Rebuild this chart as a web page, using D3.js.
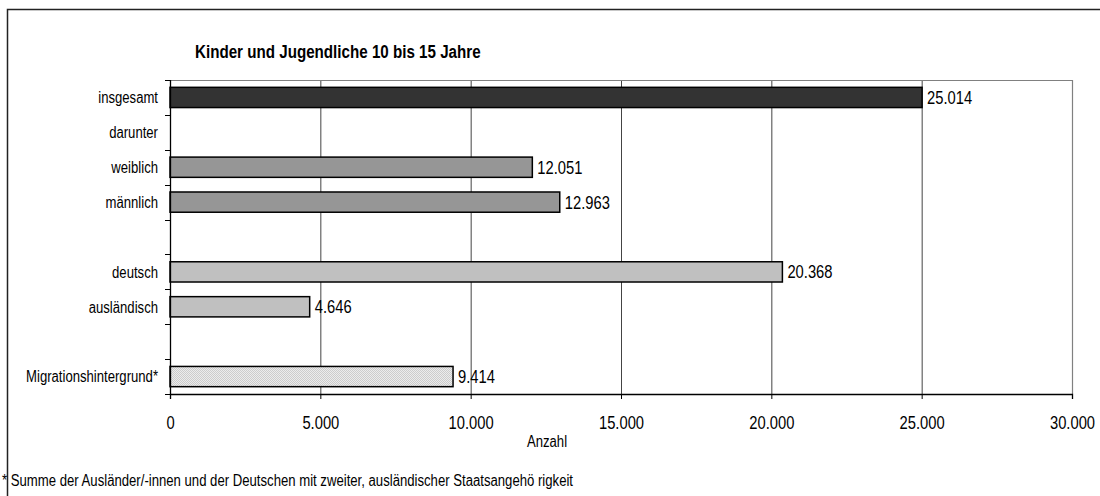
<!DOCTYPE html>
<html>
<head>
<meta charset="utf-8">
<script src="https://cdn.jsdelivr.net/npm/d3@7"></script>
<style>
  html, body { margin: 0; padding: 0; background: #fff; }
  svg text { font-family: "Liberation Sans", Arial, sans-serif; fill: #000; }
</style>
</head>
<body>
<svg id="chart" width="1100" height="496"></svg>
<script>
// Rows of the bar chart (blank rows are spacers between groups)
const categories = ["insgesamt", "darunter", "weiblich", "männlich", "gap1", "deutsch", "ausländisch", "gap2", "Migrationshintergrund*"];
const rowLabels  = ["insgesamt", "darunter", "weiblich", "männlich", "", "deutsch", "ausländisch", "", "Migrationshintergrund*"];
const values     = [25014, null, 12051, 12963, null, 20368, 4646, null, 9414];
const fills      = ["#333333", null, "#969696", "#969696", null, "#c0c0c0", "#c0c0c0", null, "url(#dots)"];
const xTicks     = [0, 5000, 10000, 15000, 20000, 25000, 30000];

const title = "Kinder und Jugendliche 10 bis 15 Jahre";
const axisTitle = "Anzahl";
const footnote = "* Summe der Ausländer/-innen und der Deutschen mit zweiter, ausländischer Staatsangehö rigkeit";

const NARROW = 0.82; // horizontal squeeze to get a narrow face from Liberation Sans

const svg = d3.select("#chart");
const fmt = d3.formatLocale({ decimal: ",", thousands: ".", grouping: [3], currency: ["", "€"] }).format(",d");

// narrow text placed at (x, y)
function narrowText(sel, x, y, size, anchor) {
  return sel.append("text")
    .attr("transform", `translate(${x},${y}) scale(${NARROW},1)`)
    .attr("font-size", size)
    .attr("text-anchor", anchor || "start");
}

// dotted fill for the migration bar
const defs = svg.append("defs");
const pat = defs.append("pattern").attr("id", "dots").attr("patternUnits", "userSpaceOnUse")
  .attr("width", 2).attr("height", 2);
pat.append("rect").attr("width", 2).attr("height", 2).attr("fill", "#ececec");
pat.append("rect").attr("width", 1).attr("height", 1).attr("fill", "#cccccc");
pat.append("rect").attr("x", 1).attr("y", 1).attr("width", 1).attr("height", 1).attr("fill", "#cccccc");

// outer frame (left and top edges)
svg.append("path").attr("d", "M7.5,496 V9.5 H1100").attr("fill", "none").attr("stroke", "#222").attr("stroke-width", 1.5);

const plot = { left: 170, right: 1072, top: 80, bottom: 394 };

const x = d3.scaleLinear().domain([0, 30000]).range([plot.left, plot.right]);
const y = d3.scaleBand().domain(categories).range([plot.top, plot.bottom]).paddingInner(0.42).paddingOuter(0.21);
const yStep = d3.scaleBand().domain(categories).range([plot.top, plot.bottom]);

// title
narrowText(svg, 195, 58, 18.5).attr("font-weight", "bold").text(title);

// gridlines
svg.append("g").selectAll("line").data(xTicks.slice(1, -1)).join("line")
  .attr("x1", d => x(d) + 0.5).attr("x2", d => x(d) + 0.5)
  .attr("y1", plot.top).attr("y2", plot.bottom)
  .attr("stroke", "#444").attr("stroke-width", 1);

// plot-area frame (top and right)
svg.append("path")
  .attr("d", `M${plot.left},${plot.top + 0.5} H${plot.right + 0.5} V${plot.bottom}`)
  .attr("fill", "none").attr("stroke", "#808080").attr("stroke-width", 1.2);

// bars
const rows = categories.map((c, i) => ({ c, v: values[i], fill: fills[i], label: rowLabels[i] }));
const barRows = rows.filter(d => d.v != null);
svg.append("g").selectAll("rect").data(barRows).join("rect")
  .attr("x", x(0)).attr("y", d => y(d.c))
  .attr("width", d => x(d.v) - x(0)).attr("height", y.bandwidth())
  .attr("fill", d => d.fill).attr("stroke", "#000").attr("stroke-width", 1.5);

// value labels
const valG = svg.append("g");
barRows.forEach(d => {
  narrowText(valG, x(d.v) + 5, y(d.c) + y.bandwidth() / 2, 18).attr("dy", "0.36em").text(fmt(d.v));
});

// y axis: line, ticks at band boundaries, row labels
const yAxis = svg.append("g");
yAxis.append("line").attr("x1", plot.left + 0.5).attr("x2", plot.left + 0.5)
  .attr("y1", plot.top).attr("y2", plot.bottom).attr("stroke", "#000").attr("stroke-width", 1.3);
const bounds = categories.map(c => yStep(c)).concat([plot.bottom]);
yAxis.selectAll("line.tk").data(bounds).join("line").attr("class", "tk")
  .attr("x1", plot.left - 5).attr("x2", plot.left)
  .attr("y1", d => Math.round(d) + 0.5).attr("y2", d => Math.round(d) + 0.5)
  .attr("stroke", "#000").attr("stroke-width", 1);
rows.forEach(d => {
  narrowText(yAxis, 158, yStep(d.c) + yStep.bandwidth() / 2, 16, "end").attr("dy", "0.36em").text(d.label);
});

// x axis
const xAxis = svg.append("g").attr("transform", `translate(0,${plot.bottom})`)
  .call(d3.axisBottom(x).tickValues(xTicks).tickFormat(fmt).tickSize(5).tickPadding(17));
xAxis.select(".domain").attr("stroke", "#000").attr("stroke-width", 1.3);
xAxis.selectAll(".tick line").attr("stroke", "#000");
xAxis.selectAll(".tick text").attr("font-size", 18).attr("transform", `scale(${NARROW},1)`)
  .attr("font-family", "\"Liberation Sans\", Arial, sans-serif").attr("fill", "#000");

narrowText(svg, 547, 447, 16, "middle").text(axisTitle);

// footnote
svg.append("text").attr("x", 2).attr("y", 486).attr("font-size", 16)
  .attr("textLength", 571).attr("lengthAdjust", "spacingAndGlyphs").text(footnote);
</script>
</body>
</html>
